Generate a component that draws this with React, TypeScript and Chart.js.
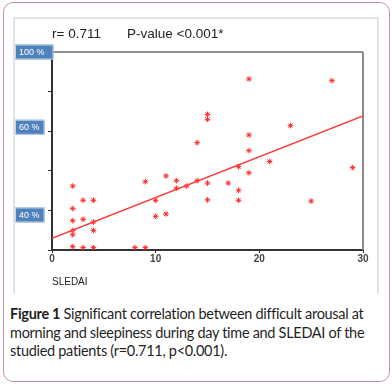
import React, { useEffect, useRef } from "react";
import { Chart, registerables } from "chart.js";

Chart.register(...registerables);

// SLEDAI score (x) and arousal/sleepiness percentage (y)
const sledai = [2, 3, 4, 2, 2, 3, 4, 2, 4, 2, 2, 3, 4, 8, 9, 9, 10, 10, 11, 11, 12, 12, 13, 14, 15, 15, 17, 18, 19, 18, 18, 21, 19, 15, 15, 14, 19, 19, 27, 23, 29, 25];
const arousal = [32.3, 25.1, 25.1, 20.9, 14.8, 15.5, 14.1, 9.9, 9.9, 7.7, 1.7, 1.2, 1.2, 1.2, 1.2, 34.5, 25.1, 17, 37.4, 18.2, 35, 31.2, 32.3, 35, 33.8, 25.3, 33.8, 42.1, 39, 30.2, 25.1, 44.7, 86.4, 68.5, 66, 54.2, 58.1, 50.2, 85.5, 62.8, 41.6, 24.7];

const fitIntercept = 5.9;
const fitSlope = 2.06;
const fitRange = [0, 30];

const xTicks = { min: 0, max: 30, step: 10 };
const yTicks = { min: 0, max: 100, step: 20 };

const badgeLabels = ["100 %", "60 %", "40 %"];
const badgeValues = [100, 62, 17.7];

const titleLeft = "r= 0.711";
const titleRight = "P-value <0.001*";
const xAxisLabel = "SLEDAI";

export default function App() {
  const ref = useRef<HTMLCanvasElement | null>(null);

  useEffect(() => {
    if (!ref.current) return;
    const points = sledai.map((x, i) => ({ x, y: arousal[i] }));
    const fitLine = fitRange.map((x) => ({ x, y: fitIntercept + fitSlope * x }));

    const decor = {
      id: "decor",
      beforeDatasetsDraw(chart: any) {
        const { ctx, chartArea } = chart;
        ctx.save();
        ctx.strokeStyle = "#6e6e6e";
        ctx.lineWidth = 1.5;
        ctx.beginPath();
        ctx.moveTo(chartArea.left, chartArea.top);
        ctx.lineTo(chartArea.right, chartArea.top);
        ctx.stroke();
        ctx.strokeStyle = "#8a8a8a";
        ctx.lineWidth = 2;
        ctx.beginPath();
        ctx.moveTo(chartArea.right, chartArea.top);
        ctx.lineTo(chartArea.right, chartArea.bottom);
        ctx.stroke();
        ctx.restore();
      },
      afterDraw(chart: any) {
        const { ctx, chartArea } = chart;
        const yScale = chart.scales.y;
        ctx.save();
        // title
        ctx.fillStyle = "#222";
        ctx.font = "13.5px 'Liberation Sans', Arial, sans-serif";
        ctx.textBaseline = "middle";
        ctx.textAlign = "left";
        ctx.fillText(titleLeft, chartArea.left, 16);
        ctx.fillText(titleRight, chartArea.left + 75, 16);
        // x axis label
        ctx.font = "10px 'Liberation Sans', Arial, sans-serif";
        ctx.fillText(xAxisLabel, chartArea.left, chartArea.bottom + 32);
        // badges
        ctx.font = "9px 'Liberation Sans', Arial, sans-serif";
        badgeLabels.forEach((lab, i) => {
          const yc = yScale.getPixelForValue(badgeValues[i]);
          const w = ctx.measureText(lab).width;
          const bw = i === 0 ? w + 13 : w + 9;
          const bx = 1;
          const bh = 15;
          ctx.fillStyle = "#4f81bd";
          ctx.fillRect(bx, yc - bh / 2, bw, bh);
          ctx.strokeStyle = "#c5d3e6";
          ctx.lineWidth = 1;
          ctx.strokeRect(bx + 0.5, yc - bh / 2 + 0.5, bw - 1, bh - 1);
          ctx.fillStyle = "#ffffff";
          ctx.fillText(lab, bx + 4, yc + 0.5);
        });
        ctx.restore();
      },
    };

    const chart = new Chart(ref.current, {
      type: "scatter",
      data: {
        datasets: [
          {
            type: "line",
            data: fitLine,
            borderColor: "#ff3b3b",
            borderWidth: 1.3,
            pointRadius: 0,
            fill: false,
          } as any,
          {
            type: "scatter",
            data: points,
            pointStyle: "star",
            pointRadius: 2.8,
            borderColor: "#ff2a2a",
            backgroundColor: "#ff2a2a",
            borderWidth: 1,
          } as any,
        ],
      },
      options: {
        animation: false,
        responsive: false,
        layout: { padding: { top: 34, right: 15, left: 0, bottom: 0 } },
        plugins: { legend: { display: false }, tooltip: { enabled: false } },
        scales: {
          x: {
            type: "linear",
            min: xTicks.min,
            max: xTicks.max,
            afterFit: (s: any) => {
              s.height = 42;
            },
            ticks: {
              stepSize: xTicks.step,
              color: "#444",
              padding: 0,
              font: { family: "'Liberation Sans', Arial, sans-serif", size: 10, weight: "bold" },
            },
            grid: { drawOnChartArea: false, drawTicks: true, tickLength: 3, color: "#333" },
            border: { color: "#333", width: 2 },
          },
          y: {
            type: "linear",
            min: yTicks.min,
            max: yTicks.max,
            afterFit: (s: any) => {
              s.width = 38;
            },
            ticks: { stepSize: yTicks.step, display: false },
            grid: { drawOnChartArea: false, drawTicks: true, tickLength: 4, color: "#333" },
            border: { color: "#333", width: 2 },
          },
        },
      } as any,
      plugins: [decor],
    });
    return () => chart.destroy();
  }, []);

  return (
    <div style={{ position: "absolute", left: 0, top: 0, width: 392, height: 388, background: "#fff" }}>
      <div
        style={{
          position: "absolute",
          left: 3,
          top: 2,
          width: 387,
          height: 380,
          boxSizing: "border-box",
          border: "1.5px solid #c58fb5",
          borderRadius: 10,
        }}
      />
      <div
        style={{
          position: "absolute",
          left: 13,
          top: 17,
          width: 366,
          height: 276,
          boxSizing: "border-box",
          borderTop: "2px solid #e2e2e2",
          borderLeft: "2px solid #e2e2e2",
          borderRight: "2px solid #e2e2e2",
        }}
      />
      <canvas
        ref={ref}
        width={364}
        height={274}
        style={{ position: "absolute", left: 14, top: 18, width: 364, height: 274 }}
      />
      <div
        style={{
          position: "absolute",
          left: 10,
          top: 305,
          width: 378,
          fontFamily: "Lato, 'Open Sans', sans-serif",
          fontSize: 14.5,
          letterSpacing: "-0.3px",
          lineHeight: "18.5px",
          color: "#1f1f1f",
          whiteSpace: "nowrap",
        }}
      >
        <b>Figure 1</b> Significant correlation between difficult arousal at
        <br />
        morning and sleepiness during day time and SLEDAI of the
        <br />
        studied patients (r=0.711, p&lt;0.001).
      </div>
    </div>
  );
}
